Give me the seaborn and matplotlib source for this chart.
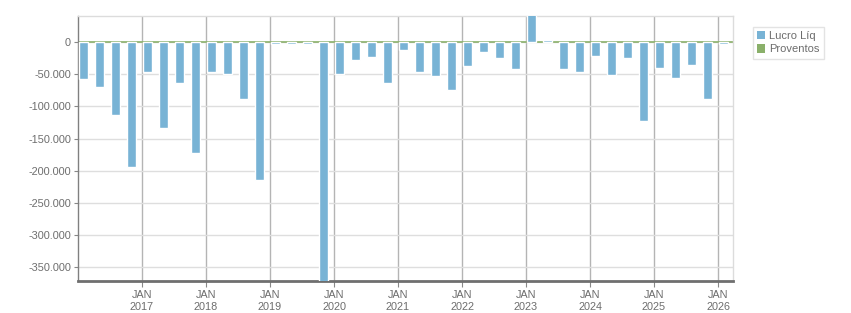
import matplotlib
matplotlib.use('Agg')
import matplotlib.pyplot as plt
import pandas as pd
import seaborn as sns
from matplotlib.patches import Patch
from matplotlib.ticker import FuncFormatter

# quarterly data, 2016 T1 .. 2026 T1
quarters = [f"{y}T{q}" for y in range(2016, 2027) for q in range(1, 5)][:41]
lucro = [
    -57000, -69000, -114000, -194000,   # 2016
    -47000, -133000, -64000, -172000,   # 2017
    -47000, -49000, -88000, -215000,    # 2018
    -2500, -2500, -2500, -390000,       # 2019
    -49000, -27000, -22500, -63000,     # 2020
    -11500, -46000, -52000, -74000,     # 2021
    -36500, -14500, -24000, -41000,     # 2022
    48000, 3000, -41000, -46000,        # 2023
    -21000, -50500, -24000, -122000,    # 2024
    -39500, -55000, -35000, -88000,     # 2025
    -3000,                              # 2026
]
proventos = [0] * 41
years = list(range(2017, 2027))

df = pd.DataFrame({'trimestre': quarters, 'lucro': lucro, 'proventos': proventos})

blue = '#78b3d5'
green = '#8ab06a'
txt = '#6d6d6d'

sns.set_style('white')
plt.rcParams['font.family'] = ['Liberation Sans', 'DejaVu Sans']

fig, ax = plt.subplots(figsize=(8.51, 3.13), dpi=100)
fig.subplots_adjust(left=78 / 851, right=733 / 851, top=1 - 16 / 313, bottom=1 - 281 / 313)

sns.barplot(data=df, x='trimestre', y='lucro', color=blue, width=0.5625,
            saturation=1, ax=ax, zorder=3)
# proventos are all zero -> only the zero line shows
ax.axhline(df['proventos'].max(), color=green, lw=1.2, zorder=2)

ax.set_xlim(-0.344, 40.59)
ax.set_ylim(-372000, 41000)

ax.set_xticks([4 * (y - 2016) - 0.344 for y in years])
ax.set_xticklabels([f"JAN\n{y}" for y in years])
ax.set_yticks(range(-350000, 1, 50000))
ax.yaxis.set_major_formatter(FuncFormatter(lambda v, p: f"{v:,.0f}".replace(',', '.')))

ax.set_axisbelow(True)
ax.yaxis.grid(True, color='#dedede', lw=1)
ax.xaxis.grid(True, color='#b4b4b4', lw=1)

for side in ['top', 'right']:
    ax.spines[side].set_color('#dcdcdc')
    ax.spines[side].set_linewidth(1)
ax.spines['left'].set_color('#808080')
ax.spines['left'].set_linewidth(1)
ax.spines['bottom'].set_color('#6f6f6f')
ax.spines['bottom'].set_linewidth(2)

ax.tick_params(axis='y', length=3, color='#888888', labelcolor=txt, labelsize=7.8, pad=2, left=True)
ax.tick_params(axis='x', length=4, color='#888888', labelcolor=txt, labelsize=7.8, pad=2.5, bottom=True)
ax.set_xlabel('')
ax.set_ylabel('')

handles = [Patch(facecolor=blue, edgecolor='none', label='Lucro Líq'),
           Patch(facecolor=green, edgecolor='none', label='Proventos')]
leg = ax.legend(handles=handles, loc='upper left', bbox_to_anchor=(1.03, 0.96),
                fontsize=8, frameon=True, fancybox=False, handlelength=0.75,
                handleheight=0.75, handletextpad=0.3, labelspacing=0.3,
                borderpad=0.4, borderaxespad=0, labelcolor=txt)
leg.get_frame().set_edgecolor('#dddddd')
leg.get_frame().set_linewidth(1)

fig.savefig('out.png', dpi=100)
